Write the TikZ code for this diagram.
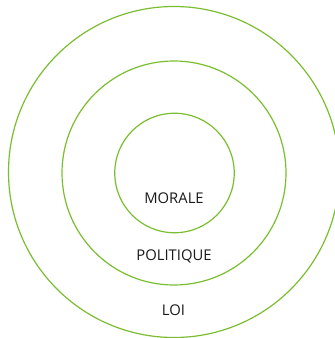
\documentclass[tikz,border=0pt]{standalone}
\usepackage{fontspec}
\setmainfont{Open Sans}
\usepackage{tikz}
\definecolor{ringgreen}{RGB}{122,190,48}

\begin{document}
\begin{tikzpicture}[
    x=1pt, y=-1pt,
    ring/.style={circle, draw=ringgreen, line width=1.2pt, inner sep=0pt},
    label/.style={font=\fontsize{14.8}{17}\selectfont, text=black!90}
]
    \useasboundingbox (0,0) rectangle (335,338);

    % Nested circles
    \node[ring, minimum size=331pt] (LOICIRC) at (174,172) {};
    \node[ring, minimum size=224pt] (POLCIRC) at (174,173) {};
    \node[ring, minimum size=119.5pt] (MORCIRC) at (174.5,173) {};

    % Labels
    \node[label] (MORALE) at (174,198) {MORALE};
    \node[label] (POLITIQUE) at (174,256.5) {POLITIQUE};
    \node[label] (LOI) at (173.5,310.5) {LOI};
\end{tikzpicture}
\end{document}
